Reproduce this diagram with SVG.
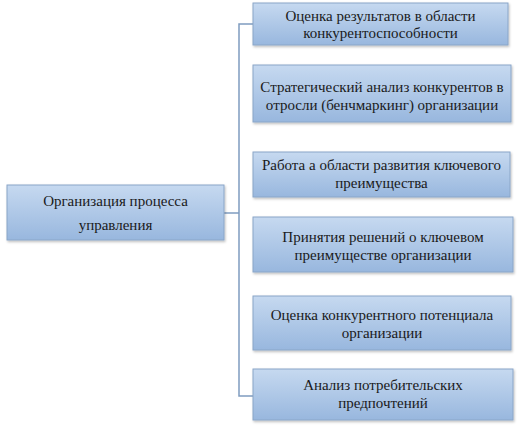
<svg xmlns="http://www.w3.org/2000/svg" width="521" height="425" viewBox="0 0 521 425">
<defs>
<linearGradient id="g" x1="0" y1="0" x2="0" y2="1">
<stop offset="0" stop-color="#c6d9f0"/>
<stop offset="1" stop-color="#98b7de"/>
</linearGradient>
<filter id="sh" x="-5%" y="-10%" width="115%" height="130%">
<feDropShadow dx="1" dy="1.5" stdDeviation="1" flood-color="#000" flood-opacity="0.25"/>
</filter>
</defs>
<style>
.box{fill:url(#g);stroke:#8aa6c8;stroke-width:1;filter:url(#sh)}
.t{font-family:'Liberation Serif','Times New Roman',Tinos,'Noto Serif','DejaVu Serif',FreeSerif,Georgia,serif;font-size:15px;fill:#1a1a1a;text-anchor:middle}
.c{fill:none;stroke:#7f9cc0;stroke-width:1.5}
</style>
<rect width="521" height="425" fill="#fff"/>
<g id="connectors">
<path class="c" d="M224,213 H239"/>
<path class="c" d="M253,24 H239 V396 H253"/>
</g>
<g id="root">
<rect class="box" x="7" y="185" width="217" height="55"/>
<text class="t" x="115.5" y="206">Организация процесса</text>
<text class="t" x="115.5" y="230">управления</text>
</g>
<g id="n1">
<rect class="box" x="253" y="3" width="255" height="42"/>
<text class="t" x="380.5" y="21">Оценка результатов  в области</text>
<text class="t" x="380.5" y="38">конкурентоспособности</text>
</g>
<g id="n2">
<rect class="box" x="253" y="65" width="258" height="57"/>
<text class="t" x="382" y="92">Стратегический анализ конкурентов в</text>
<text class="t" x="382" y="110">отросли (бенчмаркинг) организации</text>
</g>
<g id="n3">
<rect class="box" x="253" y="152" width="257" height="45"/>
<text class="t" x="381.5" y="170">Работа а области развития ключевого</text>
<text class="t" x="381.5" y="188">преимущества</text>
</g>
<g id="n4">
<rect class="box" x="253" y="217" width="260" height="55"/>
<text class="t" x="383" y="242">Принятия решений о ключевом</text>
<text class="t" x="383" y="260">преимуществе  организации</text>
</g>
<g id="n5">
<rect class="box" x="253" y="296" width="258" height="54"/>
<text class="t" x="382" y="320">Оценка конкурентного  потенциала</text>
<text class="t" x="382" y="338">организации</text>
</g>
<g id="n6">
<rect class="box" x="253" y="369" width="260" height="51"/>
<text class="t" x="383" y="390">Анализ потребительских</text>
<text class="t" x="383" y="408">предпочтений</text>
</g>
</svg>
